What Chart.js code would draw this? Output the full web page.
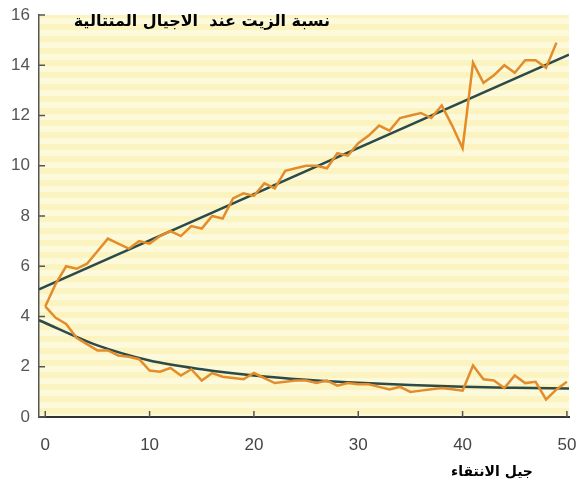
<!DOCTYPE html>
<html><head><meta charset="utf-8">
<script src="https://cdn.jsdelivr.net/npm/chart.js@4.4.1/dist/chart.umd.min.js"></script>
<style>html,body{margin:0;padding:0;background:#fff}</style>
</head><body>
<canvas id="c" width="580" height="490"></canvas>
<script>
// ---- data ----
const titleText = "نسبة الزيت عند  الاجيال المتتالية";
const xAxisTitle = "جيل الانتقاء";
const xTickValues = [0, 10, 20, 30, 40, 50];
const yTickValues = [0, 2, 4, 6, 8, 10, 12, 14, 16];

const upperGen = [0,1,2,3,4,5,6,7,8,9,10,11,12,13,14,15,16,17,18,19,20,21,22,23,24,25,26,27,28,29,30,31,32,33,34,35,36,37,38,39,40,41,42,43,44,45,46,47,48,49];
const upperOil = [4.4,5.3,6.0,5.9,6.1,6.6,7.1,6.9,6.7,7.0,6.9,7.2,7.4,7.2,7.6,7.5,8.0,7.9,8.7,8.9,8.8,9.3,9.1,9.8,9.9,10.0,10.0,9.9,10.5,10.4,10.9,11.2,11.6,11.4,11.9,12.0,12.1,11.9,12.4,11.6,10.7,14.1,13.3,13.6,14.0,13.7,14.2,14.2,13.9,14.9];

const lowerGen = [0,1,2,3,4,5,6,7,8,9,10,11,12,13,14,15,16,17,18,19,20,21,22,23,24,25,26,27,28,29,30,31,32,33,34,35,36,37,38,39,40,41,42,43,44,45,46,47,48,49,50];
const lowerOil = [4.4,3.95,3.7,3.15,2.9,2.65,2.65,2.45,2.4,2.3,1.85,1.8,1.95,1.65,1.9,1.45,1.75,1.6,1.55,1.5,1.75,1.55,1.35,1.4,1.45,1.45,1.35,1.45,1.25,1.35,1.3,1.3,1.2,1.1,1.2,1.0,1.05,1.1,1.15,1.1,1.05,2.05,1.5,1.45,1.15,1.65,1.35,1.4,0.7,1.1,1.4];

const upperFitGen = [-0.6, 50.2];
const upperFitOil = [5.08, 14.42];

const lowerFitGen = [-0.6, 5, 10, 15, 20, 25, 30, 35, 40, 45, 50.2];
const lowerFitOil = [3.85, 2.85, 2.25, 1.9, 1.65, 1.48, 1.36, 1.27, 1.2, 1.16, 1.13];

const toPts = (xs, ys) => xs.map((x, i) => ({x: x, y: ys[i]}));

// ---- styling ----
const orange = '#e38c2c';
const fitColor = '#2c4a4a';

const deco = {
  id: 'deco',
  beforeDraw(chart) {
    const {ctx, chartArea: a} = chart;
    const p = document.createElement('canvas');
    p.width = 16; p.height = 12;
    const pc = p.getContext('2d');
    pc.fillStyle = '#fdfadc'; pc.fillRect(0, 0, 16, 12);
    pc.fillStyle = '#fbf4c0'; pc.fillRect(0, 0, 16, 6);
    ctx.save();
    ctx.fillStyle = ctx.createPattern(p, 'repeat');
    ctx.fillRect(a.left, a.top, a.right - a.left, a.bottom - a.top);
    ctx.restore();
  },
  afterDraw(chart) {
    const {ctx, chartArea: a, scales} = chart;
    ctx.save();
    ctx.strokeStyle = '#555';
    ctx.lineWidth = 1.5;
    scales.y.ticks.forEach(t => {
      const y = scales.y.getPixelForValue(t.value);
      ctx.beginPath(); ctx.moveTo(a.left, y); ctx.lineTo(a.left + 6, y); ctx.stroke();
    });
    scales.x.ticks.forEach(t => {
      const x = scales.x.getPixelForValue(t.value);
      ctx.beginPath(); ctx.moveTo(x, a.bottom); ctx.lineTo(x, a.bottom - 6); ctx.stroke();
    });
    ctx.fillStyle = '#000';
    ctx.textBaseline = 'middle';
    ctx.textAlign = 'right';
    ctx.font = 'bold 16px "DejaVu Sans"';
    ctx.fillText(titleText, 330, 22);
    ctx.textAlign = 'center';
    ctx.font = 'bold 14px "DejaVu Sans"';
    ctx.fillText(xAxisTitle, 492, 472);
    ctx.restore();
  }
};

new Chart(document.getElementById('c'), {
  type: 'line',
  data: {
    datasets: [
      { data: toPts(upperGen, upperOil), borderColor: orange, borderWidth: 2.5, pointRadius: 0, tension: 0, order: 1 },
      { data: toPts(lowerGen, lowerOil), borderColor: orange, borderWidth: 2.5, pointRadius: 0, tension: 0, order: 1 },
      { data: toPts(upperFitGen, upperFitOil), borderColor: fitColor, borderWidth: 2.5, pointRadius: 0, tension: 0, order: 2 },
      { data: toPts(lowerFitGen, lowerFitOil), borderColor: fitColor, borderWidth: 2.5, pointRadius: 0, cubicInterpolationMode: 'monotone', order: 2 }
    ]
  },
  options: {
    responsive: false,
    animation: false,
    devicePixelRatio: 1,
    layout: { padding: { top: 15, right: 11, bottom: 0, left: 0 } },
    plugins: { legend: { display: false }, tooltip: { enabled: false } },
    scales: {
      x: {
        type: 'linear', min: -0.6, max: 50.2,
        afterBuildTicks: s => { s.ticks = xTickValues.map(v => ({value: v})); },
        afterFit: s => { s.height = 73; s.paddingLeft = 0; s.paddingRight = 0; },
        grid: { drawOnChartArea: false, drawTicks: false },
        border: { color: '#333', width: 2 },
        ticks: { color: '#444', padding: 18, font: { family: 'Liberation Sans', size: 17 }, maxRotation: 0 }
      },
      y: {
        type: 'linear', min: 0, max: 16,
        afterBuildTicks: s => { s.ticks = yTickValues.map(v => ({value: v})); },
        afterFit: s => { s.width = 39; s.paddingTop = 0; s.paddingBottom = 0; },
        grid: { drawOnChartArea: false, drawTicks: false },
        border: { color: '#555', width: 1.5 },
        ticks: { color: '#555', padding: 9, font: { family: 'Liberation Sans', size: 17 } }
      }
    }
  },
  plugins: [deco]
});
</script>
</body></html>
